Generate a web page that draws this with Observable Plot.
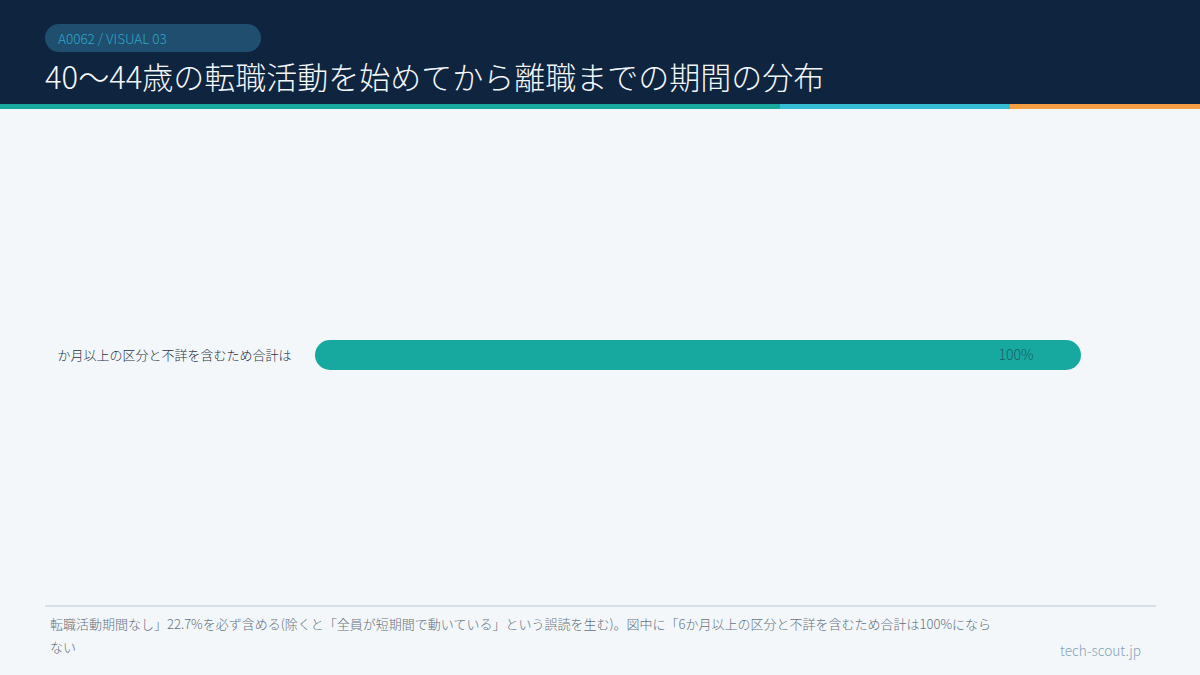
<!DOCTYPE html>
<html lang="ja">
<head>
<meta charset="utf-8">
<script src="https://cdn.jsdelivr.net/npm/d3@7"></script>
<script src="https://cdn.jsdelivr.net/npm/@observablehq/plot@0.6"></script>
<style>
  html, body { margin: 0; padding: 0; }
  body { width: 1200px; height: 675px; background: #f3f7fa; font-family: "Noto Sans CJK JP", "Noto Sans", sans-serif; position: relative; overflow: hidden; }
  .header { position: absolute; left: 0; top: 0; width: 1200px; height: 104px; background: #0f243e; }
  .badge { position: absolute; left: 45px; top: 24px; width: 216px; height: 28px; border-radius: 14px; background: #1f4e6f; color: #2ea6c9; font-size: 13.5px; font-weight: 200; line-height: 28px; box-sizing: border-box; padding-left: 13px; }
  .title { position: absolute; left: 45px; top: 55px; color: #f4f7fa; font-size: 31px; font-weight: 200; line-height: 42px; white-space: nowrap; }
  .stripe { position: absolute; top: 104px; height: 5px; }
  #chart { position: absolute; left: 0; top: 110px; }
  .rule { position: absolute; left: 45px; top: 605px; width: 1111px; height: 2px; background: #d6e0e7; }
  .note { position: absolute; left: 50px; top: 612px; width: 950px; color: #65717d; font-size: 13px; font-weight: 200; line-height: 23px; }
  .brand { position: absolute; left: 1060px; top: 640px; color: #86a3b5; font-size: 13.7px; font-weight: 200; }
</style>
</head>
<body>
<div class="header"></div>
<div class="badge">A0062 / VISUAL 03</div>
<div class="title">40～44歳の転職活動を始めてから離職までの期間の分布</div>
<div class="stripe" style="left:0;width:780px;background:#17a89e"></div>
<div class="stripe" style="left:780px;width:230px;background:#36bdd6"></div>
<div class="stripe" style="left:1010px;width:190px;background:#f59e42"></div>
<div id="chart"></div>
<div class="rule"></div>
<div class="note">転職活動期間なし」22.7%を必ず含める(除くと「全員が短期間で動いている」という誤読を生む)。図中に「6か月以上の区分と不詳を含むため合計は100%にならない</div>
<div class="brand">tech-scout.jp</div>
<script>
const categories = ["か月以上の区分と不詳を含むため合計は"];
const values = [100];
const valueLabels = ["100%"];

const data = categories.map((c, i) => ({category: c, value: values[i], label: valueLabels[i]}));

const chart = Plot.plot({
  width: 1200,
  height: 490,
  marginLeft: 315,
  marginRight: 119,
  marginTop: 0,
  marginBottom: 0,
  style: {background: "transparent", fontFamily: "'Noto Sans CJK JP', sans-serif"},
  x: {domain: [0, 100], axis: null},
  y: {domain: categories, padding: 0, label: null},
  marks: [
    Plot.barX(data, {x: "value", y: "category", fill: "#17a99f", rx: 15, insetTop: 230, insetBottom: 230}),
    Plot.text(data, {x: "value", y: "category", text: "label", textAnchor: "end", dx: -48, fill: "#1b5d66", fontSize: 14, fontWeight: 200}),
    Plot.axisY({tickSize: 0, tickPadding: 24, fontSize: 13, fontWeight: 200, color: "#27323f", label: null})
  ]
});
document.getElementById("chart").appendChild(chart);
</script>
</body>
</html>
